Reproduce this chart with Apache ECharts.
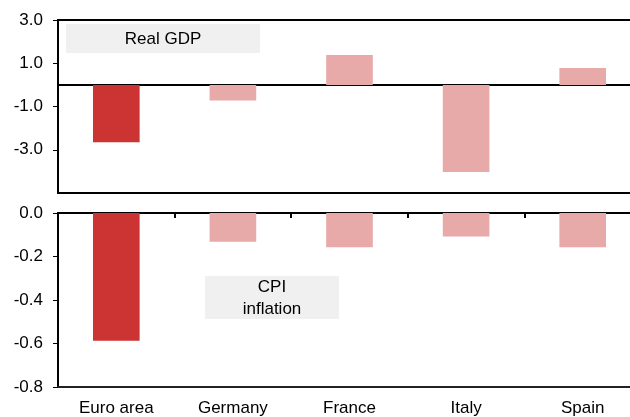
<!DOCTYPE html>
<html>
<head>
<meta charset="utf-8">
<script src="https://cdn.jsdelivr.net/npm/echarts@6/dist/echarts.min.js"></script>
<style>
  html, body { margin: 0; padding: 0; background: #fff; }
  #chart { width: 630px; height: 417px; }
</style>
</head>
<body>
<div id="chart"></div>
<script>
var countries = ['Euro area', 'Germany', 'France', 'Italy', 'Spain'];
var gdpValues = [-2.65, -0.72, 1.38, -4.03, 0.78];
var cpiValues = [-0.587, -0.132, -0.158, -0.108, -0.158];
var gdpTicks = [3, 1, -1, -3];

var darkRed = '#cc3333';
var pink = '#e8a9a9';
var font = 'Liberation Sans, Arial, sans-serif';

function colourBars(values) {
    return values.map(function (v, i) {
        return { value: v, itemStyle: { color: i === 0 ? darkRed : pink } };
    });
}

var chart = echarts.init(document.getElementById('chart'));

var option = {
    animation: false,
    backgroundColor: '#fff',
    textStyle: { fontFamily: font },
    grid: [
        // plot runs a bit past the right edge, so no right border is seen
        { left: 58, top: 20, width: 583, height: 173, outerBoundsMode: 'none', containLabel: false,
          show: true, borderColor: '#000', borderWidth: 2 },
        { left: 58, top: 213, width: 583, height: 174, outerBoundsMode: 'none', containLabel: false,
          show: true, borderColor: '#000', borderWidth: 2 }
    ],
    xAxis: [
        // zero line of the GDP panel
        {
            type: 'category', gridIndex: 0, data: countries,
            axisLine: { onZero: true, lineStyle: { color: '#000', width: 2 } },
            axisTick: { show: false }, axisLabel: { show: false }
        },
        // labels under the CPI panel
        {
            type: 'category', gridIndex: 1, data: countries, position: 'bottom',
            axisLine: { onZero: false, lineStyle: { color: '#222', width: 2 } },
            axisTick: { show: false },
            axisLabel: { color: '#000', fontSize: 17, fontFamily: font, margin: 13 }
        },
        // top line of CPI panel with inner ticks
        {
            type: 'category', gridIndex: 1, data: countries, position: 'top',
            axisLine: { onZero: false, lineStyle: { color: '#000', width: 2 } },
            axisTick: { show: true, inside: true, length: 5, lineStyle: { color: '#000', width: 2 } },
            axisLabel: { show: false }
        }
    ],
    yAxis: [
        {
            type: 'value', gridIndex: 0, min: -5, max: 3, interval: 2,
            axisLine: { show: true, lineStyle: { color: '#000', width: 2 } },
            axisTick: { show: true, length: 5, customValues: gdpTicks, lineStyle: { color: '#000' } },
            axisLabel: {
                customValues: gdpTicks, color: '#000', fontSize: 17, fontFamily: font, margin: 15,
                formatter: function (v) { return v.toFixed(1); }
            },
            splitLine: { show: false }
        },
        {
            type: 'value', gridIndex: 1, min: -0.8, max: 0, interval: 0.2,
            axisLine: { show: true, lineStyle: { color: '#000', width: 2 } },
            axisTick: { show: true, length: 5, lineStyle: { color: '#000' } },
            axisLabel: {
                color: '#000', fontSize: 17, fontFamily: font, margin: 15,
                formatter: function (v) { return v.toFixed(1); }
            },
            splitLine: { show: false }
        }
    ],
    graphic: [
        { type: 'rect', shape: { x: 66, y: 24, width: 194, height: 29 }, style: { fill: '#f0f0f0' }, z: 0 },
        { type: 'text', style: { text: 'Real GDP', x: 163, y: 39, align: 'center', verticalAlign: 'middle', font: '17px ' + font, fill: '#000' }, z: 1 },
        { type: 'rect', shape: { x: 205, y: 276, width: 134, height: 43 }, style: { fill: '#f0f0f0' }, z: 0 },
        { type: 'text', style: { text: 'CPI\ninflation', x: 272, y: 298, align: 'center', verticalAlign: 'middle', lineHeight: 22, font: '17px ' + font, fill: '#000' }, z: 1 }
    ],
    series: [
        {
            type: 'bar', xAxisIndex: 0, yAxisIndex: 0, barWidth: '40%',
            data: colourBars(gdpValues)
        },
        {
            type: 'bar', xAxisIndex: 1, yAxisIndex: 1, barWidth: '40%',
            data: colourBars(cpiValues)
        }
    ]
};

chart.setOption(option);
</script>
</body>
</html>
